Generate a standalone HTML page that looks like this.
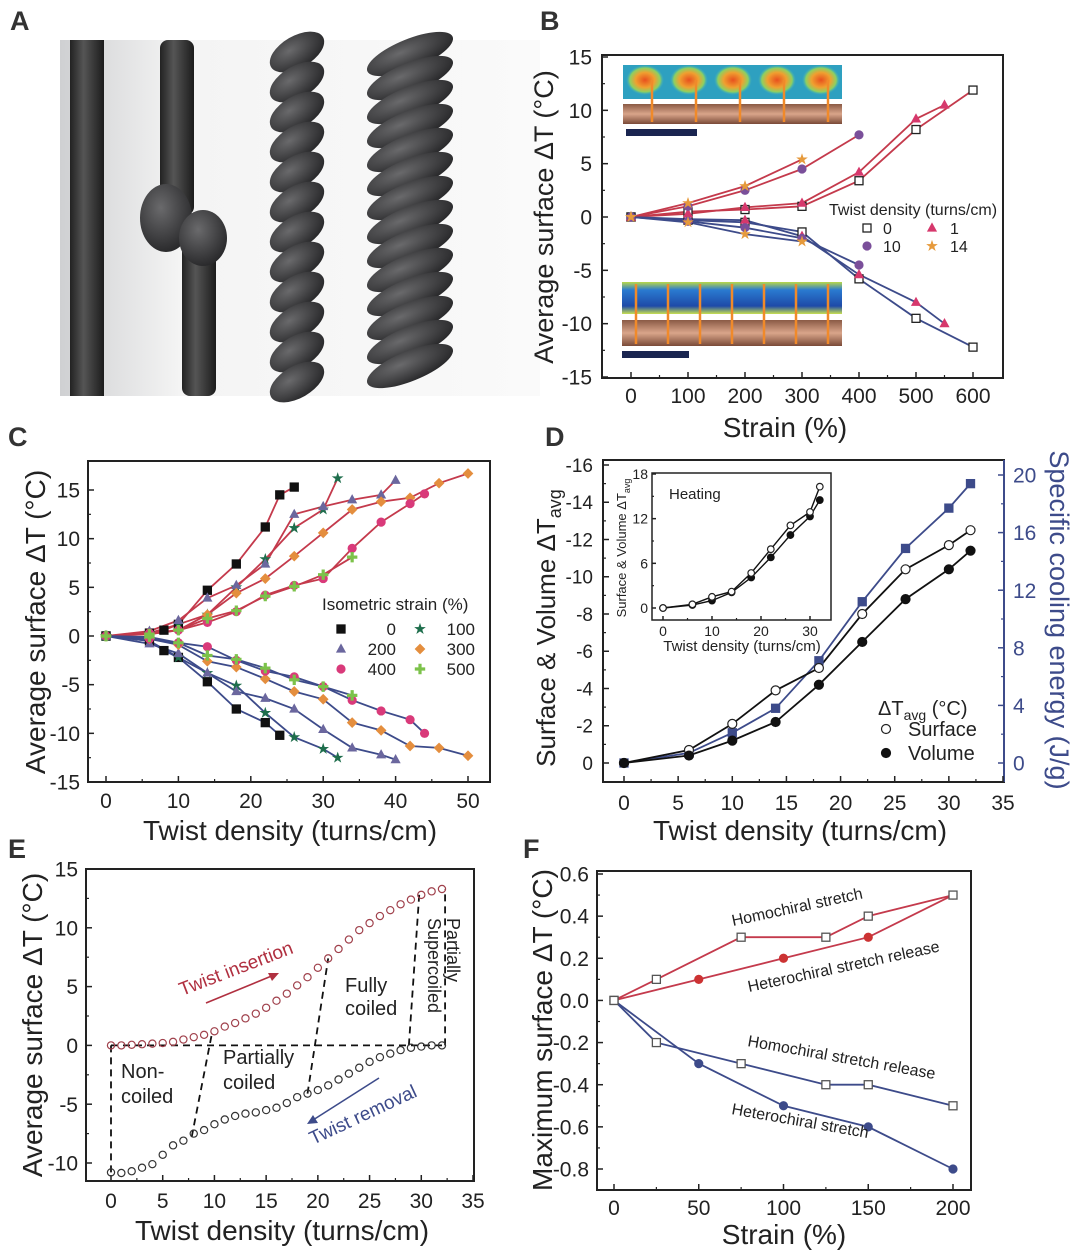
<!DOCTYPE html>
<html><head><meta charset="utf-8"><style>
html,body{margin:0;padding:0;background:#fff}
svg{display:block;font-family:"Liberation Sans",sans-serif}
</style></head><body>
<svg id="fig" width="1080" height="1252" viewBox="0 0 1080 1252" xmlns="http://www.w3.org/2000/svg">
<defs>
<linearGradient id="bgA" x1="0" x2="1"><stop offset="0" stop-color="#cfd0d2"/><stop offset="0.25" stop-color="#f4f4f4"/><stop offset="1" stop-color="#fafafa"/></linearGradient>
<linearGradient id="rod" x1="0" x2="1"><stop offset="0" stop-color="#222"/><stop offset="0.4" stop-color="#555"/><stop offset="1" stop-color="#1c1c1c"/></linearGradient>
<radialGradient id="ball" cx="0.4" cy="0.35" r="0.7"><stop offset="0" stop-color="#6a6a6c"/><stop offset="1" stop-color="#262628"/></radialGradient>
<linearGradient id="rope" x1="0" y1="0" x2="0" y2="1"><stop offset="0" stop-color="#8a5a45"/><stop offset="0.5" stop-color="#d9a58a"/><stop offset="1" stop-color="#7a4a38"/></linearGradient>
<linearGradient id="coolmap" x1="0" y1="0" x2="0" y2="1"><stop offset="0" stop-color="#b8d84a"/><stop offset="0.25" stop-color="#2a7ad0"/><stop offset="0.75" stop-color="#1e4aa8"/><stop offset="1" stop-color="#c8e050"/></linearGradient>
<radialGradient id="hot" cx="0.5" cy="0.5" r="0.5"><stop offset="0" stop-color="#e8501e"/><stop offset="0.5" stop-color="#f0a030"/><stop offset="0.8" stop-color="#8ed060"/><stop offset="1" stop-color="#3fb0c0" stop-opacity="0"/></radialGradient>
</defs>
</svg>
<script>
// ---------- data ----------
const bStrain0=[0,100,200,300,400,500,600];
const bHeat0=[0,0.5,0.7,1,3.4,8.2,11.9];
const bCool0=[0,-0.3,-0.5,-1.4,-5.8,-9.5,-12.2];
const bStrain1=[0,100,200,300,400,500,550];
const bHeat1=[0,0.3,0.9,1.3,4.2,9.2,10.5];
const bCool1=[0,-0.2,-0.3,-1.8,-5.4,-8,-10];
const bStrain10=[0,100,200,300,400];
const bHeat10=[0,1,2.5,4.5,7.7];
const bCool10=[0,-0.4,-1,-2,-4.5];
const bStrain14=[0,100,200,300];
const bHeat14=[0,1.3,2.9,5.4];
const bCool14=[0,-0.5,-1.6,-2.3];
const bXTicks=[0,100,200,300,400,500,600];
const bYTicks=[-15,-10,-5,0,5,10,15];

const c0HeatX=[0,6,8,10,14,18,22,24,26];
const c0Heat=[0,0.3,0.6,1.2,4.7,7.4,11.2,14.5,15.3];
const c0CoolX=[0,6,8,10,14,18,22,24];
const c0Cool=[0,-0.5,-1.5,-2.2,-4.7,-7.5,-8.9,-10.2];
const c100X=[0,6,10,14,18,22,26,30,32];
const c100Heat=[0,0.3,1.2,2.2,5,7.9,11.1,13,16.2];
const c100Cool=[0,-0.5,-2.2,-3.8,-5.1,-7.9,-10.4,-11.6,-12.5];
const c200X=[0,6,10,14,18,22,26,30,34,38,40];
const c200Heat=[0,0.5,1.6,3.9,5.2,7.4,12.5,13.3,14,14.5,16];
const c200Cool=[0,-0.8,-1.8,-3.8,-5.7,-6.4,-7.5,-9.6,-11.5,-12.2,-12.7];
const c300X=[0,6,10,14,18,22,26,30,34,38,42,46,50];
const c300Heat=[0,0.2,0.6,2.2,4.4,5.9,8.2,10.6,13,13.8,14.2,15.7,16.7];
const c300Cool=[0,-0.3,-0.9,-2.6,-3.2,-4.4,-5.7,-6.5,-8.9,-9.7,-11.3,-11.5,-12.3];
const c400X=[0,6,10,14,18,22,26,30,34,38,42,44];
const c400Heat=[0,0.3,0.6,1.4,2.5,4.2,5.2,5.9,9,11.7,13.6,14.6];
const c400Cool=[0,-0.3,-0.7,-1.1,-2.5,-3.6,-4.2,-5.2,-6.6,-7.7,-8.6,-10];
const c500X=[0,6,10,14,18,22,26,30,34];
const c500Heat=[0,0.2,0.6,1.8,2.6,4.1,5.1,6.3,8.1];
const c500Cool=[0,-0.1,-0.7,-2,-2.4,-3.3,-4.5,-5.2,-6.1];
const cXTicks=[0,10,20,30,40,50];
const cYTicks=[-15,-10,-5,0,5,10,15];

const dTwist=[0,6,10,14,18,22,26,30,32];
const dSurface=[0,-0.7,-2.1,-3.9,-5.1,-8.0,-10.4,-11.7,-12.5];
const dVolume=[0,-0.4,-1.2,-2.2,-4.2,-6.5,-8.8,-10.4,-11.4];
const dEnergy=[0,0.7,2.1,3.8,7.1,11.2,14.9,17.7,19.4];
const dInsetSurface=[0,0.5,1.5,2.2,4.7,7.9,11.1,12.9,16.3];
const dInsetVolume=[0,0.4,1,2.1,4.1,6.8,9.8,12.3,14.5];
const dXTicks=[0,5,10,15,20,25,30,35];
const dLeftTicks=[-16,-14,-12,-10,-8,-6,-4,-2,0];
const dRightTicks=[0,4,8,12,16,20];
const dInsetXTicks=[0,10,20,30];
const dInsetYTicks=[0,6,12,18];

const eTwist=[0,1,2,3,4,5,6,7,8,9,10,11,12,13,14,15,16,17,18,19,20,21,22,23,24,25,26,27,28,29,30,31,32];
const eInsert=[0,0,0.05,0.1,0.15,0.2,0.3,0.5,0.7,0.9,1.2,1.6,1.9,2.3,2.7,3.2,3.8,4.4,5.1,5.8,6.6,7.4,8.2,9.0,9.8,10.4,11.0,11.5,12.0,12.4,12.8,13.1,13.3];
const eRemove=[-10.8,-10.85,-10.7,-10.4,-10.1,-9.3,-8.5,-8.1,-7.5,-7.2,-6.7,-6.3,-6.0,-5.8,-5.7,-5.5,-5.3,-4.9,-4.4,-4.1,-3.8,-3.4,-2.9,-2.4,-1.9,-1.4,-1.0,-0.7,-0.4,-0.2,-0.1,0,0];
const eXTicks=[0,5,10,15,20,25,30,35];
const eYTicks=[-10,-5,0,5,10,15];

const fHomoX=[0,25,75,125,150,200];
const fHomoStretch=[0,0.1,0.3,0.3,0.4,0.5];
const fHomoRelease=[0,-0.2,-0.3,-0.4,-0.4,-0.5];
const fHeteroX=[0,50,100,150,200];
const fHeteroRelease=[0,0.1,0.2,0.3,0.5];
const fHeteroStretch=[0,-0.3,-0.5,-0.6,-0.8];
const fXTicks=[0,50,100,150,200];
const fYTicks=[-0.8,-0.6,-0.4,-0.2,0,0.2,0.4,0.6];

// ---------- helpers ----------
const NS="http://www.w3.org/2000/svg";
const svg=document.getElementById('fig');
function mk(tag,attrs,parent,name,inter){
  const el=document.createElementNS(NS,tag);
  for(const k in attrs) el.setAttribute(k,attrs[k]);
  
  
  (parent||svg).appendChild(el);
  return el;
}
function txt(s,x,y,size,parent,name,opt){
  opt=opt||{};
  const t=mk('text',{x:x,y:y,'font-size':size,fill:opt.fill||'#222','text-anchor':opt.anchor||'start'},parent,name);
  if(opt.rot!==undefined) t.setAttribute('transform','rotate('+opt.rot+' '+x+' '+y+')');
  if(opt.weight) t.setAttribute('font-weight',opt.weight);
  t.textContent=s;
  return t;
}
function lin(d0,d1,r0,r1){return v=>r0+(v-d0)*(r1-r0)/(d1-d0);}
const HEAT='#c43a4c', COOL='#3d4b8a';

function frame(g,x0,y0,x1,y1,name){
  mk('rect',{x:x0,y:y0,width:x1-x0,height:y1-y0,fill:'none',stroke:'#222','stroke-width':2},g,name);
}
function xTicks(g,ticks,sx,yb,ylab,size,name,fmt,len){
  len=len||6;
  const n=ticks.length;
  ticks.forEach((t,i)=>{
    const x=sx(t);
    mk('line',{x1:x,y1:yb,x2:x,y2:yb-len,stroke:'#222','stroke-width':1.5},g,name+'-tick');
    txt(fmt?fmt(t):String(t),x,ylab,size,g,name+'-label',{anchor:'middle'});
    if(i<n-1){const xm=sx((t+ticks[i+1])/2);
      mk('line',{x1:xm,y1:yb,x2:xm,y2:yb-len/2,stroke:'#222','stroke-width':1.2},g,name+'-minor-tick');}
  });
}
function yTicks(g,ticks,sy,xl,xlab,size,name,fmt,side,color,len){
  len=len||6; side=side||1;
  const n=ticks.length;
  ticks.forEach((t,i)=>{
    const y=sy(t);
    mk('line',{x1:xl,y1:y,x2:xl+side*len,y2:y,stroke:color||'#222','stroke-width':1.5},g,name+'-tick');
    txt(fmt?fmt(t):String(t),xlab,y+size*0.36,size,g,name+'-label',{anchor:side>0?'end':'start',fill:color||'#222'});
    if(i<n-1){const ym=sy((t+ticks[i+1])/2);
      mk('line',{x1:xl,y1:ym,x2:xl+side*len/2,y2:ym,stroke:color||'#222','stroke-width':1.2},g,name+'-minor-tick');}
  });
}
function line(g,xs,ys,sx,sy,color,name,w,dash){
  const pts=xs.map((x,i)=>sx(x).toFixed(1)+','+sy(ys[i]).toFixed(1)).join(' ');
  const p=mk('polyline',{points:pts,fill:'none',stroke:color,'stroke-width':w||1.8},g,name);
  if(dash) p.setAttribute('stroke-dasharray',dash);
  return p;
}
function marker(g,shape,x,y,r,fill,stroke,name){
  let el;
  if(shape==='square') el=mk('rect',{x:x-r,y:y-r,width:2*r,height:2*r,fill:fill,stroke:stroke,'stroke-width':1.3},g,name);
  else if(shape==='circle') el=mk('circle',{cx:x,cy:y,r:r,fill:fill,stroke:stroke,'stroke-width':1.2},g,name);
  else if(shape==='triangle') el=mk('polygon',{points:`${x},${y-r*1.2} ${x-r*1.1},${y+r*0.8} ${x+r*1.1},${y+r*0.8}`,fill:fill,stroke:stroke,'stroke-width':0.8},g,name);
  else if(shape==='diamond') el=mk('polygon',{points:`${x},${y-r*1.2} ${x+r*1.2},${y} ${x},${y+r*1.2} ${x-r*1.2},${y}`,fill:fill,stroke:stroke,'stroke-width':0.8},g,name);
  else if(shape==='star'){let p=[];for(let k=0;k<10;k++){const a=-Math.PI/2+k*Math.PI/5,rr=k%2?r*0.5:r*1.3;p.push((x+rr*Math.cos(a)).toFixed(1)+','+(y+rr*Math.sin(a)).toFixed(1));}
    el=mk('polygon',{points:p.join(' '),fill:fill,stroke:stroke,'stroke-width':0.6},g,name);}
  else if(shape==='plus'){const a=r*1.3,b=r*0.4;
    el=mk('polygon',{points:`${x-b},${y-a} ${x+b},${y-a} ${x+b},${y-b} ${x+a},${y-b} ${x+a},${y+b} ${x+b},${y+b} ${x+b},${y+a} ${x-b},${y+a} ${x-b},${y+b} ${x-a},${y+b} ${x-a},${y-b} ${x-b},${y-b}`,fill:fill,stroke:'none'},g,name);}
  return el;
}
function series(g,xs,ys,sx,sy,color,shape,r,fill,stroke,name){
  line(g,xs,ys,sx,sy,color,name+'-line');
  xs.forEach((x,i)=>marker(g,shape,sx(x),sy(ys[i]),r,fill,stroke,name+'-point'));
}

// ---------- panel letters ----------
[['A',10,30],['B',540,30],['C',8,446],['D',545,446],['E',8,858],['F',523,858]].forEach(l=>{
  txt(l[0],l[1],l[2],27,svg,'panel-label-'+l[0].toLowerCase(),{weight:'bold',fill:'#333'});
});

// ---------- panel A (photo approximation) ----------
(function(){
  const g=mk('g',{},svg,'panel-a-photo');
  mk('rect',{x:60,y:40,width:480,height:356,fill:'url(#bgA)'},g,'photo-background');
  mk('rect',{x:70,y:40,width:34,height:356,fill:'url(#rod)'},g,'straight-fiber');
  mk('rect',{x:160,y:40,width:34,height:175,rx:8,fill:'url(#rod)'},g,'knotted-fiber-upper');
  mk('rect',{x:182,y:235,width:34,height:161,rx:8,fill:'url(#rod)'},g,'knotted-fiber-lower');
  mk('ellipse',{cx:166,cy:218,rx:26,ry:34,fill:'url(#ball)'},g,'knot-left');
  mk('ellipse',{cx:203,cy:238,rx:24,ry:28,fill:'url(#ball)'},g,'knot-right');
  for(let y=52;y<390;y+=30){
    mk('ellipse',{cx:297,cy:y,rx:30,ry:16,fill:'url(#ball)',transform:`rotate(-30 297 ${y})`},g,'twisted-fiber-ply');
  }
  for(let y=54;y<390;y+=24){
    mk('ellipse',{cx:410,cy:y,rx:46,ry:15,fill:'url(#ball)',transform:`rotate(-22 410 ${y})`},g,'coiled-fiber-ply');
  }
})();

// ---------- panel B ----------
(function(){
  const g=mk('g',{},svg,'panel-b');
  const sx=lin(0,600,631,973), sy=lin(-15,15,377,57);
  const ins=mk('g',{},g,'thermal-image-inset');
  mk('rect',{x:623,y:65,width:219,height:34,fill:'#2ea0c0'},ins,'heating-thermal-map');
  for(let i=0;i<5;i++) mk('ellipse',{cx:645+i*44,cy:80,rx:19,ry:15,fill:'url(#hot)'},ins,'hot-spot');
  mk('rect',{x:623,y:104,width:219,height:20,fill:'url(#rope)'},ins,'heating-fiber-image');
  for(let i=0;i<5;i++) mk('line',{x1:652+i*44,y1:80,x2:652+i*44,y2:122,stroke:'#f08a2a','stroke-width':2.5},ins,'alignment-marker');
  mk('rect',{x:626,y:129,width:71,height:7,fill:'#1a2550'},ins,'scale-bar-top');
  mk('rect',{x:622,y:282,width:220,height:32,fill:'url(#coolmap)'},ins,'cooling-thermal-map');
  mk('rect',{x:622,y:320,width:220,height:26,fill:'url(#rope)'},ins,'cooling-fiber-image');
  for(let i=0;i<7;i++) mk('line',{x1:636+i*32,y1:284,x2:636+i*32,y2:344,stroke:'#f08a2a','stroke-width':2.5},ins,'alignment-marker');
  mk('rect',{x:622,y:351,width:67,height:7,fill:'#1a2550'},ins,'scale-bar-bottom');

  frame(g,602,55,1003,378,'plot-frame');
  xTicks(g,bXTicks,sx,378,403,21,'x-axis');
  yTicks(g,bYTicks,sy,602,592,21,'y-axis');
  txt('Strain (%)',785,437,28,g,'x-axis-title',{anchor:'middle'});
  txt('Average surface ΔT (°C)',553,217,27,g,'y-axis-title',{anchor:'middle',rot:-90});
  const sets=[[bStrain0,bHeat0,bCool0,'square','#fff','#222','twist-0'],[bStrain1,bHeat1,bCool1,'triangle','#d6386c','#d6386c','twist-1'],
    [bStrain10,bHeat10,bCool10,'circle','#7a4f9a','#7a4f9a','twist-10'],[bStrain14,bHeat14,bCool14,'star','#e69a3c','#e69a3c','twist-14']];
  sets.forEach(s=>{
    line(g,s[0],s[1],sx,sy,HEAT,s[6]+'-heating-line');
    line(g,s[0],s[2],sx,sy,COOL,s[6]+'-cooling-line');
  });
  sets.forEach(s=>{
    s[0].forEach((x,i)=>{marker(g,s[3],sx(x),sy(s[1][i]),4,s[4],s[5],s[6]+'-heating-point');
      marker(g,s[3],sx(x),sy(s[2][i]),4,s[4],s[5],s[6]+'-cooling-point');});
  });
  const lg=mk('g',{},g,'legend');
  txt('Twist density (turns/cm)',829,215,16,lg,'legend-title');
  marker(lg,'square',867,228,4,'#fff','#222','legend-marker-0'); txt('0',883,234,16,lg,'legend-entry-0');
  marker(lg,'triangle',932,228,4,'#d6386c','#d6386c','legend-marker-1'); txt('1',950,234,16,lg,'legend-entry-1');
  marker(lg,'circle',867,246,4,'#7a4f9a','#7a4f9a','legend-marker-10'); txt('10',883,252,16,lg,'legend-entry-10');
  marker(lg,'star',932,246,4,'#e69a3c','#e69a3c','legend-marker-14'); txt('14',950,252,16,lg,'legend-entry-14');
})();

// ---------- panel C ----------
(function(){
  const g=mk('g',{},svg,'panel-c');
  const sx=lin(0,50,106,468), sy=lin(-15,15,782,490);
  frame(g,88,461,490,782,'plot-frame');
  xTicks(g,cXTicks,sx,782,808,21,'x-axis');
  yTicks(g,cYTicks,sy,88,80,21,'y-axis');
  txt('Twist density (turns/cm)',290,840,28,g,'x-axis-title',{anchor:'middle'});
  txt('Average surface ΔT (°C)',45,622,28,g,'y-axis-title',{anchor:'middle',rot:-90});
  const sets=[
    [c0HeatX,c0Heat,c0CoolX,c0Cool,'square','#111','strain-0'],
    [c100X,c100Heat,c100X,c100Cool,'star','#1e6e4c','strain-100'],
    [c200X,c200Heat,c200X,c200Cool,'triangle','#6b679e','strain-200'],
    [c300X,c300Heat,c300X,c300Cool,'diamond','#e48e3e','strain-300'],
    [c400X,c400Heat,c400X,c400Cool,'circle','#d93a7a','strain-400'],
    [c500X,c500Heat,c500X,c500Cool,'plus','#7cc24a','strain-500']];
  sets.forEach(s=>{line(g,s[0],s[1],sx,sy,HEAT,s[6]+'-heating-line');line(g,s[2],s[3],sx,sy,COOL,s[6]+'-cooling-line');});
  sets.forEach(s=>{
    s[0].forEach((x,i)=>marker(g,s[4],sx(x),sy(s[1][i]),4,s[5],s[5],s[6]+'-heating-point'));
    s[2].forEach((x,i)=>marker(g,s[4],sx(x),sy(s[3][i]),4,s[5],s[5],s[6]+'-cooling-point'));
  });
  const lg=mk('g',{},g,'legend');
  txt('Isometric strain (%)',322,610,17,lg,'legend-title');
  const ent=[['0','square','#111',0,0],['100','star','#1e6e4c',1,0],['200','triangle','#6b679e',0,1],['300','diamond','#e48e3e',1,1],['400','circle','#d93a7a',0,2],['500','plus','#7cc24a',1,2]];
  ent.forEach(e=>{const mx=e[3]?420:341, y=629+e[4]*20;
    marker(lg,e[1],mx,y,4,e[2],e[2],'legend-marker-'+e[0]);
    txt(e[0],e[3]?475:396,y+6,17,lg,'legend-entry-'+e[0],{anchor:'end'});});
})();

// ---------- panel D ----------
(function(){
  const g=mk('g',{},svg,'panel-d');
  const sx=lin(0,35,624,1003), syL=lin(0,-16,763,465), syR=lin(0,20,763,475);
  frame(g,603,460,1004,782,'plot-frame');
  mk('line',{x1:1004,y1:460,x2:1004,y2:782,stroke:COOL,'stroke-width':2},g,'right-axis-line');
  xTicks(g,dXTicks,sx,782,810,21,'x-axis');
  yTicks(g,dLeftTicks,syL,603,593,19,'left-y-axis');
  yTicks(g,dRightTicks,syR,1004,1013,21,'right-y-axis',null,-1,COOL);
  txt('Twist density (turns/cm)',800,840,28,g,'x-axis-title',{anchor:'middle'});
  const lt=txt('Surface & Volume ΔT',555,628,26,g,'left-y-axis-title',{anchor:'middle',rot:-90});
  const sub=mk('tspan',{'font-size':18,dy:6},lt,'subscript-avg'); sub.textContent='avg';
  txt('Specific cooling energy (J/g)',1050,620,27,g,'right-y-axis-title',{anchor:'middle',rot:90,fill:COOL});
  line(g,dTwist,dEnergy,sx,syR,COOL,'energy-line');
  line(g,dTwist,dSurface,sx,syL,'#111','surface-line');
  line(g,dTwist,dVolume,sx,syL,'#111','volume-line');
  dTwist.forEach((x,i)=>{
    marker(g,'square',sx(x),syR(dEnergy[i]),4,COOL,COOL,'energy-point');
    marker(g,'circle',sx(x),syL(dSurface[i]),4.5,'#fff','#222','surface-point');
    marker(g,'circle',sx(x),syL(dVolume[i]),4.5,'#111','#111','volume-point');
  });
  const lg=mk('g',{},g,'legend');
  const lt2=txt('ΔT',878,715,20,lg,'legend-title');
  const s2=mk('tspan',{'font-size':14,dy:5},lt2,'legend-title-subscript'); s2.textContent='avg';
  const s3=mk('tspan',{'font-size':20,dy:-5},lt2,'legend-title-unit'); s3.textContent=' (°C)';
  marker(lg,'circle',886,729,4.5,'#fff','#222','legend-marker-surface'); txt('Surface',908,736,20,lg,'legend-entry-surface');
  marker(lg,'circle',886,753,4.5,'#111','#111','legend-marker-volume'); txt('Volume',908,760,20,lg,'legend-entry-volume');
  const ig=mk('g',{},g,'inset-heating');
  const ix=lin(0,30,663,810), iy=lin(0,18,608,474);
  mk('rect',{x:652,y:473,width:179,height:147,fill:'#fff',stroke:'#222','stroke-width':1.5},ig,'inset-frame');
  xTicks(ig,dInsetXTicks,ix,620,636,14,'inset-x-axis',null,4);
  yTicks(ig,dInsetYTicks,iy,652,648,14,'inset-y-axis',null,1,null,4);
  txt('Twist density (turns/cm)',742,651,15,ig,'inset-x-axis-title',{anchor:'middle'});
  const it=txt('Surface & Volume ΔT',626,548,13,ig,'inset-y-axis-title',{anchor:'middle',rot:-90});
  const is=mk('tspan',{'font-size':9,dy:4},it,'inset-subscript'); is.textContent='avg';
  txt('Heating',669,499,15,ig,'inset-heating-label');
  line(ig,dTwist,dInsetSurface,ix,iy,'#111','inset-surface-line',1.4);
  line(ig,dTwist,dInsetVolume,ix,iy,'#111','inset-volume-line',1.4);
  dTwist.forEach((x,i)=>{
    marker(ig,'circle',ix(x),iy(dInsetVolume[i]),3.3,'#111','#111','inset-volume-point');
    marker(ig,'circle',ix(x),iy(dInsetSurface[i]),3.3,'#fff','#222','inset-surface-point');
  });
})();

// ---------- panel E ----------
(function(){
  const g=mk('g',{},svg,'panel-e');
  const sx=lin(0,35,111,473), sy=lin(-10,15,1163,869);
  frame(g,86,869,474,1181,'plot-frame');
  xTicks(g,eXTicks,sx,1181,1208,21,'x-axis');
  yTicks(g,eYTicks,sy,86,78,21,'y-axis');
  txt('Twist density (turns/cm)',282,1240,28,g,'x-axis-title',{anchor:'middle'});
  txt('Average surface ΔT (°C)',42,1025,28,g,'y-axis-title',{anchor:'middle',rot:-90});
  const dash='7,5';
  const dl=(a,b,c,d,n)=>mk('line',{x1:sx(a),y1:sy(b),x2:sx(c),y2:sy(d),stroke:'#111','stroke-width':1.8,'stroke-dasharray':dash},g,n);
  dl(0,0,32.3,0,'zero-dashed-line');
  dl(0,0,0,-10.8,'noncoiled-boundary');
  dl(7.8,-7.8,9.8,1.2,'partial-coil-boundary');
  dl(19,-4.1,21,7.4,'full-coil-boundary');
  dl(28.8,0,29.8,12.8,'supercoil-boundary');
  dl(32.3,0,32.3,13.3,'end-boundary');
  eTwist.forEach((x,i)=>{
    marker(g,'circle',sx(x),sy(eInsert[i]),3.6,'none','#a0414c','insertion-point');
    marker(g,'circle',sx(x),sy(eRemove[i]),3.6,'none','#333','removal-point');
  });
  txt('Non-',121,1078,20,g,'region-label-noncoiled');
  txt('coiled',121,1103,20,g,'region-label-noncoiled-2');
  txt('Partially',223,1064,20,g,'region-label-partially-coiled');
  txt('coiled',223,1089,20,g,'region-label-partially-coiled-2');
  txt('Fully',345,992,20,g,'region-label-fully-coiled');
  txt('coiled',345,1015,20,g,'region-label-fully-coiled-2');
  txt('Partially',447,918,18,g,'region-label-supercoiled',{rot:90});
  txt('Supercoiled',428,918,18,g,'region-label-supercoiled-2',{rot:90});
  txt('Twist insertion',182,996,19,g,'twist-insertion-label',{rot:-21,fill:'#b03040'});
  mk('line',{x1:206,y1:1003,x2:274,y2:975,stroke:'#b03040','stroke-width':1.6},g,'twist-insertion-arrow');
  mk('polygon',{points:'279,973 268,973 272,981',fill:'#b03040'},g,'twist-insertion-arrowhead');
  txt('Twist removal',313,1145,19,g,'twist-removal-label',{rot:-25,fill:'#3d4b8a'});
  mk('line',{x1:379,y1:1078,x2:313,y2:1120,stroke:'#3d4b8a','stroke-width':1.6},g,'twist-removal-arrow');
  mk('polygon',{points:'307,1124 318,1123 313,1115',fill:'#3d4b8a'},g,'twist-removal-arrowhead');
})();

// ---------- panel F ----------
(function(){
  const g=mk('g',{},svg,'panel-f');
  const sx=lin(0,200,614,953), sy=lin(-0.8,0.6,1169,874);
  frame(g,597,871,971,1190,'plot-frame');
  xTicks(g,fXTicks,sx,1190,1215,21,'x-axis');
  yTicks(g,fYTicks,sy,597,589,21,'y-axis',v=>v.toFixed(1));
  txt('Strain (%)',784,1244,28,g,'x-axis-title',{anchor:'middle'});
  txt('Maximum surface ΔT (°C)',552,1030,28,g,'y-axis-title',{anchor:'middle',rot:-90});
  series(g,fHeteroX,fHeteroRelease,sx,sy,HEAT,'circle',4,'#cc3333','#cc3333','heterochiral-stretch-release');
  series(g,fHeteroX,fHeteroStretch,sx,sy,COOL,'circle',4,COOL,COOL,'heterochiral-stretch');
  series(g,fHomoX,fHomoStretch,sx,sy,HEAT,'square',4,'#fff','#555','homochiral-stretch');
  series(g,fHomoX,fHomoRelease,sx,sy,COOL,'square',4,'#fff','#555','homochiral-stretch-release');
  txt('Homochiral stretch',733,926,16,g,'homochiral-stretch-label',{rot:-12});
  txt('Heterochiral stretch release',749,992,16,g,'heterochiral-stretch-release-label',{rot:-12});
  txt('Homochiral stretch release',747,1046,16,g,'homochiral-stretch-release-label',{rot:10});
  txt('Heterochiral stretch',731,1114,16,g,'heterochiral-stretch-label',{rot:10});
})();
</script>
</body></html>
